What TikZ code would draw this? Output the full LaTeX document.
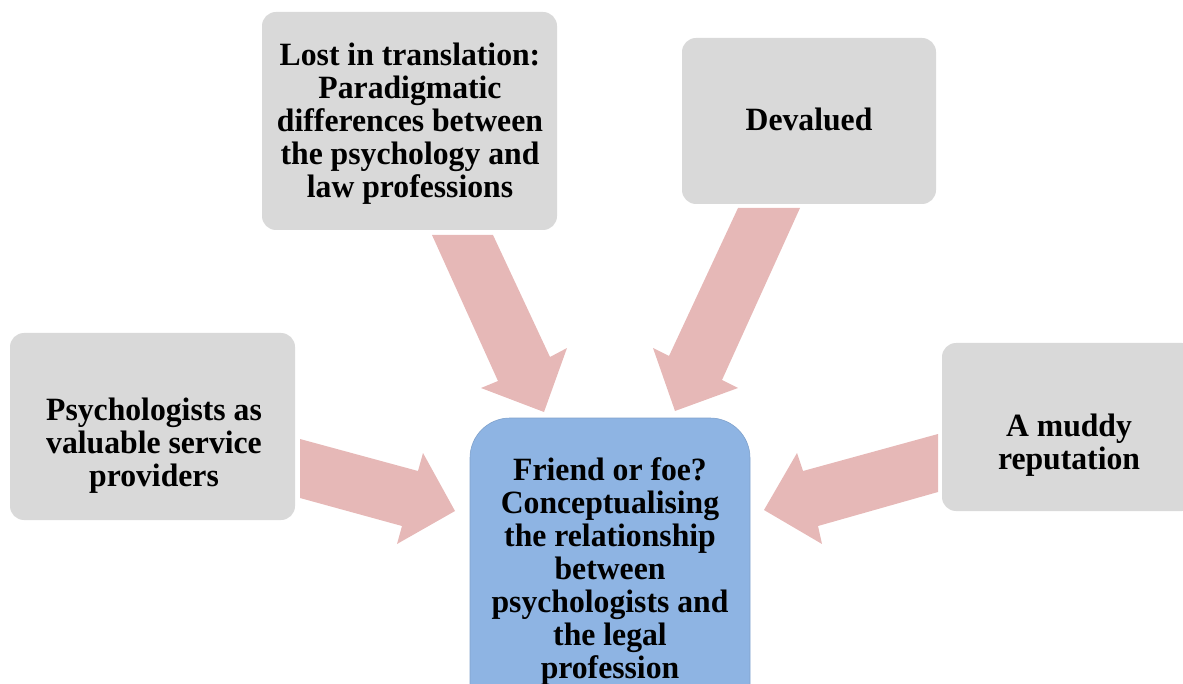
\documentclass[tikz,border=0pt]{standalone}
\usepackage{fontspec}
\setmainfont{Liberation Serif}
\definecolor{boxgray}{HTML}{D9D9D9}
\definecolor{boxblue}{HTML}{8EB4E3}
\definecolor{arrowpink}{HTML}{E6B8B7}
\begin{document}
\begin{tikzpicture}[x=1pt,y=-1pt,
  gbox/.style={fill=boxgray, rounded corners=14pt, inner sep=0pt},
  bbox/.style={fill=boxblue, draw=boxblue!90!black, line width=0.6pt, rounded corners=40pt, inner sep=0pt},
  lbl/.style={font=\bfseries\fontsize{32.5}{33}\selectfont, align=center, xscale=0.975, inner sep=0pt},
  blk/.style={fill=arrowpink, draw=none}]
\useasboundingbox (0,0) rectangle (1183,684);
\clip (0,0) rectangle (1183,684);
% boxes
\node[gbox, minimum width=295pt, minimum height=218pt] (lost) at (409.5,121) {};
\node[gbox, minimum width=254pt, minimum height=166pt] (dev) at (809,121) {};
\node[gbox, minimum width=285pt, minimum height=187pt] (psy) at (152.5,426.5) {};
\node[gbox, minimum width=254pt, minimum height=168pt] (mud) at (1069,427) {};
\node[bbox, minimum width=280pt, minimum height=306pt] (fri) at (610,571) {};
% block arrows
\path[blk] (432,235) -- (493,235) -- (550,357) -- (567,348) -- (544,412) -- (481,388) -- (498,381) -- cycle;
\path[blk] (738,208) -- (800,208) -- (722,380) -- (738,388) -- (675,411) -- (653,348) -- (669,356) -- cycle;
\path[blk] (300,439) -- (418,471) -- (423,453) -- (455,511) -- (397,544) -- (402,526) -- (300,498) -- cycle;
\path[blk] (938,434) -- (803,471) -- (797,453) -- (764,510) -- (822,544) -- (818,526) -- (938,492) -- cycle;
% labels
\node[lbl] (lostT) at (410,123.5) {Lost in translation:\\Paradigmatic\\differences between\\the psychology and\\law professions};
\node[lbl] (devT) at (809,119) {Devalued};
\node[lbl] (psyT) at (154,445.5) {Psychologists as\\valuable service\\providers};
\node[lbl] (mudT) at (1069,445) {A muddy\\reputation};
\node[lbl] (friT) at (610,571.5) {Friend or foe?\\Conceptualising\\the relationship\\between\\psychologists and\\the legal\\profession};
\end{tikzpicture}
\end{document}
